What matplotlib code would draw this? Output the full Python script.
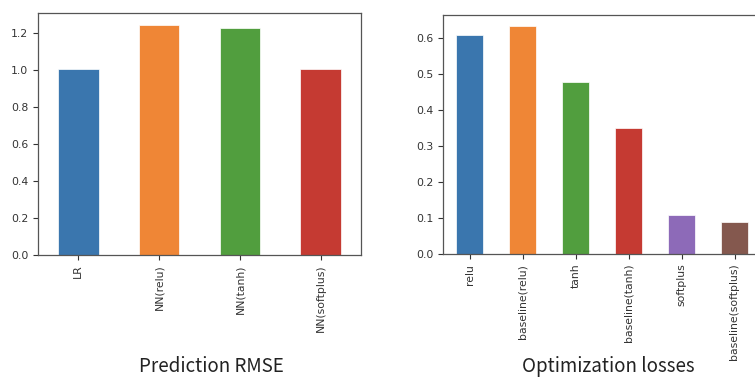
import matplotlib
matplotlib.use("Agg")
import matplotlib.pyplot as plt

# prediction error per model
rmse_labels = ["LR", "NN(relu)", "NN(tanh)", "NN(softplus)"]
rmse_values = [1.003, 1.245, 1.227, 1.003]

# final optimization losses
loss_labels = ["relu", "baseline(relu)", "tanh", "baseline(tanh)",
               "softplus", "baseline(softplus)"]
loss_values = [0.607, 0.631, 0.477, 0.349, 0.107, 0.089]

colors = ["#3a76ae", "#ef8636", "#519e3e", "#c53a32", "#8d6ab8", "#84584e"]

W, H = 755, 379
fig = plt.figure(figsize=(W / 100, H / 100), dpi=100)


def px_axes(x0, y0, x1, y1):
    # axes from pixel box (top-left origin)
    return fig.add_axes([x0 / W, 1 - y1 / H, (x1 - x0) / W, (y1 - y0) / H])


def bar_panel(ax, labels, values):
    ax.bar(range(len(values)), values, width=0.5, color=colors[:len(values)],
           edgecolor="#ffffff", linewidth=0.5)
    ax.set_xlim(-0.5, len(values) - 0.5)
    ax.set_ylim(0, max(values) * 1.05)
    ax.set_xticks(range(len(values)))
    ax.set_xticklabels(labels, rotation=90)
    for s in ax.spines.values():
        s.set_color("#555555")
        s.set_linewidth(0.9)
    ax.tick_params(colors="#333333", labelsize=7.8, length=3.5, width=0.8)


ax1 = px_axes(38, 13, 361, 255)
bar_panel(ax1, rmse_labels, rmse_values)
ax1.set_yticks([0.0, 0.2, 0.4, 0.6, 0.8, 1.0, 1.2])

ax2 = px_axes(443, 15, 761, 254)
bar_panel(ax2, loss_labels, loss_values)
ax2.set_yticks([0.0, 0.1, 0.2, 0.3, 0.4, 0.5, 0.6])

fig.text(211 / W, 1 - 372 / H, "Prediction RMSE", ha="center", va="baseline",
         fontsize=13.5, family=["Noto Sans CJK JP", "DejaVu Sans"], color="#222222")
fig.text(608 / W, 1 - 372 / H, "Optimization losses", ha="center", va="baseline",
         fontsize=13.5, family=["Noto Sans CJK JP", "DejaVu Sans"], color="#222222")

fig.savefig("out.png", dpi=100)
